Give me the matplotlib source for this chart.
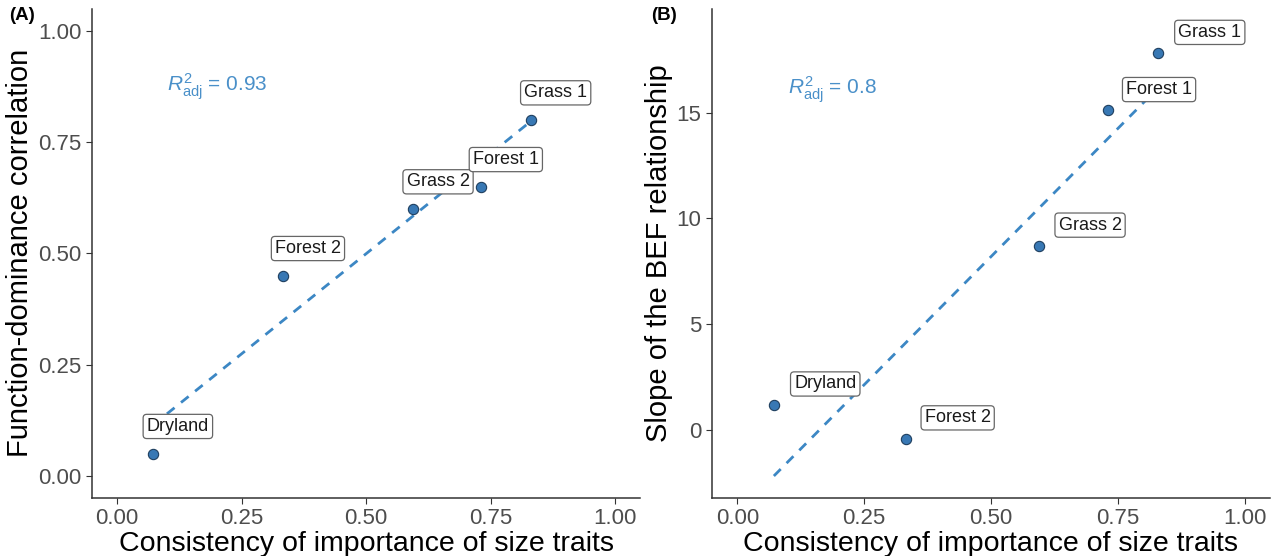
import numpy as np
import matplotlib
matplotlib.use("Agg")
import matplotlib.pyplot as plt

plt.rcParams["font.family"] = ["Liberation Sans", "DejaVu Sans"]
plt.rcParams["mathtext.fontset"] = "custom"
plt.rcParams["mathtext.rm"] = "Liberation Sans"
plt.rcParams["mathtext.it"] = "Liberation Sans:italic"

# данные
sites = ["Dryland", "Forest 2", "Grass 2", "Forest 1", "Grass 1"]
consistency = [0.072, 0.333, 0.594, 0.730, 0.830]
fd_corr = [0.05, 0.45, 0.60, 0.65, 0.80]
bef_slope = [1.2, -0.4, 8.7, 15.1, 17.8]
r2_a = "0.93"
r2_b = "0.8"

x_ticks = [0.0, 0.25, 0.5, 0.75, 1.0]
y_ticks_a = [0.0, 0.25, 0.5, 0.75, 1.0]
y_ticks_b = [0, 5, 10, 15]

point_color = "#3878B4"
line_color = "#3C87C4"
text_color = "#4A90C9"

fig = plt.figure(figsize=(12.84, 5.56), dpi=100)
ax1 = fig.add_axes([0.0717, 0.1043, 0.427, 0.880])
ax2 = fig.add_axes([0.5545, 0.1043, 0.4346, 0.880])


def panel(ax, x, y, ylabel, r2, r2_y, yticks, ylim, yfmt, offset):
    x = np.array(x)
    y = np.array(y)
    # линейная регрессия, как geom_smooth(method="lm")
    k, b = np.polyfit(x, y, 1)
    xs = np.array([x.min(), x.max()])
    ax.plot(xs, k * xs + b, ls=(0, (3.5, 3)), color=line_color, lw=2, zorder=2)
    ax.scatter(x, y, s=55, color=point_color, edgecolor="#1F3F5F", lw=0.8, zorder=3)
    for name, xi, yi in zip(sites, x, y):
        ax.annotate(name, (xi, yi), xytext=offset, textcoords="offset points",
                    ha="center", va="center", fontsize=13, color="#1a1a1a", zorder=4,
                    bbox=dict(boxstyle="round,pad=0.2,rounding_size=0.2", fc="white",
                              ec="#666666", lw=0.9))
    ax.text(0.1, r2_y, r"$R^2_{\mathrm{adj}}$" + " = " + r2, color=text_color,
            fontsize=15, ha="left", va="center")
    ax.set_xlim(-0.05, 1.05)
    ax.set_ylim(*ylim)
    ax.set_xticks(x_ticks)
    ax.set_xticklabels([f"{t:.2f}" for t in x_ticks])
    ax.set_yticks(yticks)
    ax.set_yticklabels([yfmt(t) for t in yticks])
    ax.tick_params(labelsize=16, labelcolor="#4D4D4D", color="#333333", length=4, width=0.8)
    for s in ["top", "right"]:
        ax.spines[s].set_visible(False)
    for s in ["left", "bottom"]:
        ax.spines[s].set_color("#333333")
        ax.spines[s].set_linewidth(1.1)
    ax.set_xlabel("Consistency of importance of size traits", fontsize=20.5, labelpad=1)
    ax.set_ylabel(ylabel, fontsize=21, labelpad=3)


panel(ax1, consistency, fd_corr, "Function-dominance correlation", r2_a, 0.875,
      y_ticks_a, (-0.05, 1.05), lambda t: f"{t:.2f}", (18, 19.5))
panel(ax2, consistency, bef_slope, "Slope of the BEF relationship", r2_b, 16.1,
      y_ticks_b, (-3.2, 19.9), lambda t: f"{t:g}", (37, 15))

fig.text(0.007, 0.972, "(A)", fontsize=13.5, fontweight="bold", va="center")
fig.text(0.507, 0.972, "(B)", fontsize=13.5, fontweight="bold", va="center")

fig.savefig("out.png", dpi=100)
